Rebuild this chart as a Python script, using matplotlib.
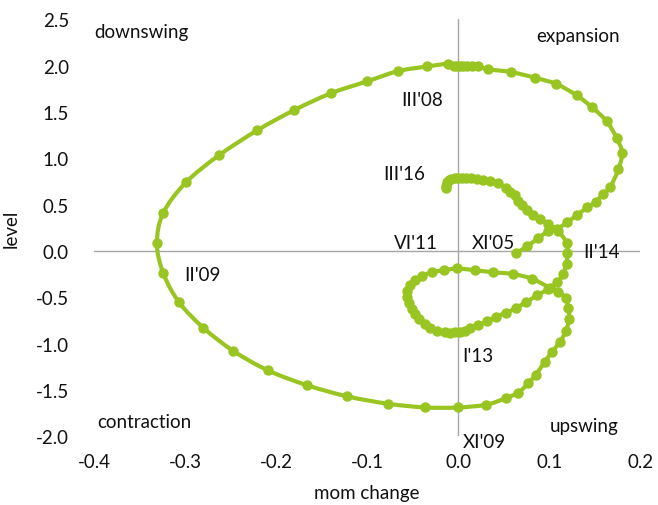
import numpy as np
import matplotlib
matplotlib.use("Agg")
import matplotlib.pyplot as plt
from matplotlib.path import Path
from matplotlib.patches import PathPatch

# momentum change (x) and level (y), monthly from XI'05 to III'16
mom_change = [
    # XI'05 -> III'08
    0.064, 0.076, 0.088, 0.099, 0.109, 0.120, 0.131, 0.142, 0.151, 0.159,
    0.167, 0.176, 0.180, 0.174, 0.163, 0.147, 0.130, 0.108, 0.084, 0.058,
    0.033, 0.022, 0.015, 0.010, 0.005, 0.002, -0.001, -0.005, -0.011,
    # -> II'09
    -0.034, -0.066, -0.100, -0.140, -0.180, -0.221, -0.263, -0.299, -0.324,
    -0.331, -0.324,
    # -> XI'09
    -0.307, -0.280, -0.247, -0.209, -0.166, -0.122, -0.077, -0.036, 0.000,
    # -> VI'11
    0.031, 0.052, 0.066, 0.077, 0.085, 0.095, 0.103, 0.112, 0.118, 0.122,
    0.121, 0.118, 0.110, 0.101, 0.081, 0.060, 0.038, 0.019, -0.001,
    # -> I'13
    -0.016, -0.029, -0.040, -0.047, -0.053, -0.056, -0.056, -0.054, -0.051,
    -0.047, -0.043, -0.037, -0.031, -0.023, -0.015, -0.009, -0.003, 0.002,
    0.008,
    # -> II'14
    0.013, 0.022, 0.032, 0.042, 0.052, 0.063, 0.075, 0.087, 0.099, 0.109,
    0.115, 0.119, 0.120,
    # -> III'16
    0.119, 0.110, 0.099, 0.090, 0.082, 0.076, 0.070, 0.066, 0.062, 0.057,
    0.052, 0.044, 0.035, 0.027, 0.021, 0.014, 0.009, 0.004, 0.000, -0.004,
    -0.008, -0.010, -0.012, -0.013, -0.013,
]
level = [
    -0.02, 0.05, 0.14, 0.21, 0.24, 0.31, 0.39, 0.47, 0.53, 0.61,
    0.69, 0.88, 1.06, 1.22, 1.40, 1.55, 1.68, 1.80, 1.87, 1.93,
    1.96, 1.99, 2.00, 2.00, 1.99, 2.00, 1.99, 2.00, 2.02,
    1.99, 1.94, 1.83, 1.70, 1.52, 1.30, 1.03, 0.74, 0.41,
    0.08, -0.24,
    -0.55, -0.83, -1.08, -1.29, -1.45, -1.57, -1.65, -1.69, -1.69,
    -1.66, -1.59, -1.53, -1.43, -1.34, -1.20, -1.09, -0.98, -0.87, -0.74,
    -0.62, -0.51, -0.44, -0.40, -0.30, -0.25, -0.23, -0.21, -0.19,
    -0.21, -0.23, -0.27, -0.31, -0.37, -0.43, -0.50, -0.56, -0.63,
    -0.68, -0.74, -0.79, -0.83, -0.87, -0.88, -0.89, -0.88, -0.88,
    -0.87,
    -0.83, -0.80, -0.76, -0.71, -0.67, -0.62, -0.55, -0.48, -0.41, -0.34,
    -0.25, -0.14, -0.02,
    0.09, 0.21, 0.29, 0.34, 0.39, 0.44, 0.49, 0.54, 0.60, 0.64,
    0.68, 0.73, 0.75, 0.77, 0.78, 0.79, 0.79, 0.79, 0.79, 0.79,
    0.78, 0.76, 0.74, 0.70, 0.68,
]

# point labels and their positions
point_labels = ["XI'05", "III'08", "II'09", "XI'09", "VI'11", "I'13", "II'14", "III'16"]
label_x = [0.015, -0.063, -0.301, 0.005, -0.071, 0.004, 0.137, -0.082]
label_y = [0.09, 1.63, -0.26, -2.06, 0.09, -1.13, -0.01, 0.83]

quadrants = ["downswing", "expansion", "contraction", "upswing"]
quad_x = [-0.400, 0.086, -0.397, 0.101]
quad_y = [2.37, 2.32, -1.84, -1.88]

x_ticks = [-0.4, -0.3, -0.2, -0.1, 0.0, 0.1, 0.2]
y_ticks = [-2.0, -1.5, -1.0, -0.5, 0.0, 0.5, 1.0, 1.5, 2.0, 2.5]

GREEN = "#99c523"
GREY = "#a6a6a6"
TEXT = "#111111"
plt.rcParams["font.family"] = ["Lato", "DejaVu Sans"]
plt.rcParams["font.size"] = 13.5


def smooth_path(xs, ys, tension=1 / 6):
    # catmull-rom style bezier through the points (like excel smoothed line)
    pts = np.column_stack([xs, ys])
    verts = [pts[0]]
    codes = [Path.MOVETO]
    n = len(pts)
    for i in range(n - 1):
        p0 = pts[max(i - 1, 0)]
        p1 = pts[i]
        p2 = pts[i + 1]
        p3 = pts[min(i + 2, n - 1)]
        c1 = p1 + (p2 - p0) * tension
        c2 = p2 - (p3 - p1) * tension
        verts += [c1, c2, p2]
        codes += [Path.CURVE4] * 3
    return Path(verts, codes)


fig = plt.figure(figsize=(6.58, 5.06), dpi=100)
ax = fig.add_axes([0.143, 0.136, 0.830, 0.824])

ax.set_xlim(-0.4, 0.2)
ax.set_ylim(-2.0, 2.5)

# axis lines through zero
ax.axhline(0, color=GREY, lw=1.0, zorder=1)
ax.axvline(0, color=GREY, lw=1.0, zorder=1)

for s in ax.spines.values():
    s.set_visible(False)

ax.add_patch(PathPatch(smooth_path(mom_change, level), facecolor="none",
                       edgecolor=GREEN, lw=3.0, zorder=2, capstyle="round"))
ax.plot(mom_change, level, ls="none", marker="o", ms=6.5, color=GREEN, zorder=3)

for t, x, y in zip(point_labels, label_x, label_y):
    ax.text(x, y, t, ha="left", va="center", color=TEXT)
for t, x, y in zip(quadrants, quad_x, quad_y):
    ax.text(x, y, t, ha="left", va="center", color=TEXT)

ax.set_xticks(x_ticks)
ax.set_yticks(y_ticks)
ax.set_xticklabels([f"{v:.1f}" for v in x_ticks])
ax.set_yticklabels([f"{v:.1f}" for v in y_ticks])
ax.tick_params(axis="x", length=0, pad=12, colors=TEXT)
ax.tick_params(axis="y", length=0, pad=18, colors=TEXT)

ax.set_xlabel("mom change", labelpad=10, color=TEXT)
ax.set_ylabel("level", labelpad=12, color=TEXT)

fig.savefig("out.png", dpi=100)
